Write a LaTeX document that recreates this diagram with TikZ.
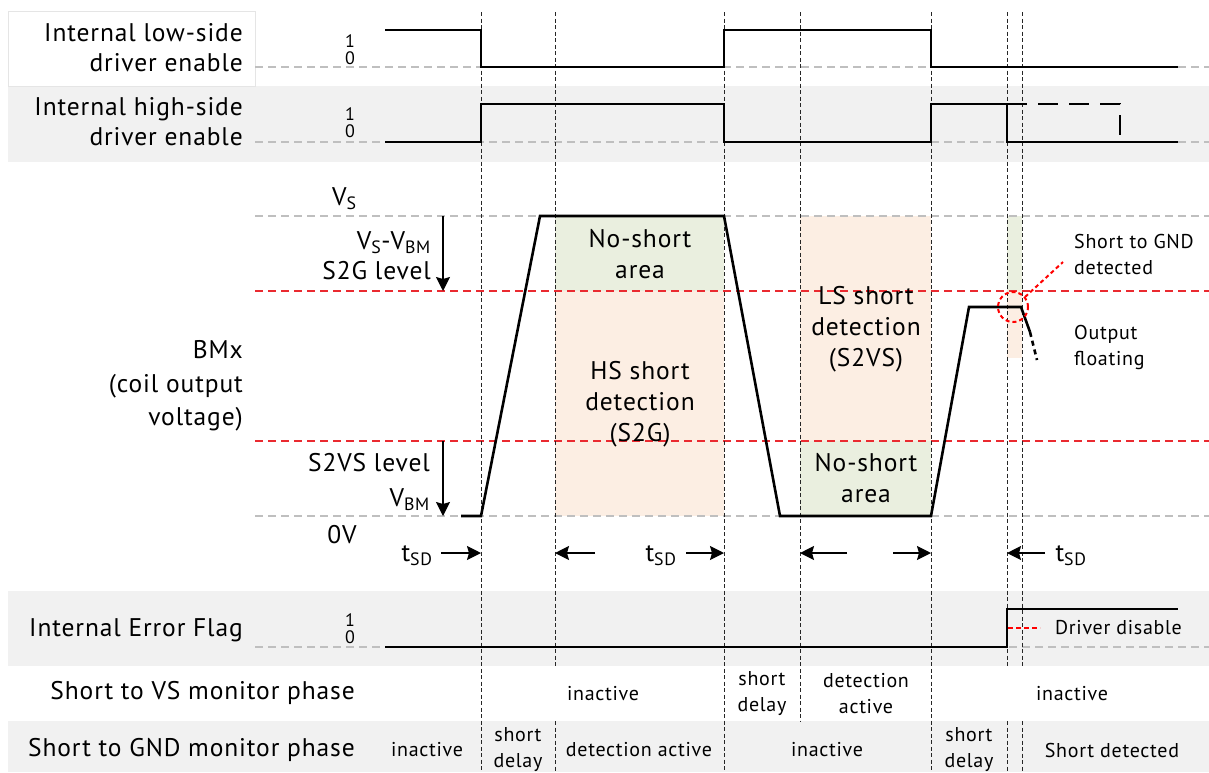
\documentclass[tikz,border=0pt]{standalone}
\usepackage{fontspec}
\setmainfont{PT Sans}[LetterSpace=3.5]
\usepackage{tikz}
\usetikzlibrary{arrows.meta}
\definecolor{bandgray}{HTML}{F1F1F1}
\definecolor{nsgreen}{HTML}{EAEFDF}
\definecolor{detpeach}{HTML}{FCEEE3}
\definecolor{lvlred}{HTML}{EA2A30}

\tikzset{
    sig/.style={line width=2.6pt, line join=miter},
    grid/.style={black!25, line width=1.3pt, dash pattern=on 8pt off 5pt},
    lvl/.style={lvlred, line width=1.1pt, dash pattern=on 8pt off 5pt},
    tmark/.style={black!85, line width=0.7pt, dash pattern=on 4pt off 2.5pt},
    lbl/.style={font=\fontsize{25.5}{30}\selectfont, align=right, anchor=east, inner sep=0pt},
    txt/.style={font=\fontsize{25.5}{31}\selectfont, align=center, inner sep=0pt},
    small/.style={font=\fontsize{20}{26}\selectfont, align=center, inner sep=0pt},
    bit/.style={font=\fontsize{18}{18}\selectfont, inner sep=0pt},
    arr/.style={-{Stealth[length=14pt, width=14pt, inset=2pt]}, line width=1.4pt}
}

\begin{document}
\begin{tikzpicture}[x=1pt, y=-1pt]
                \useasboundingbox (0,0) rectangle (1209,772);

                    % bands
                    \fill[bandgray] (8,86) rectangle (1209,162);
                    \fill[bandgray] (8,591) rectangle (1209,666);
                    \fill[bandgray] (8,721) rectangle (1209,772);
                    \draw[black!10, fill=white] (8,11) rectangle (255,86);

                    % areas of BMx
                    \fill[nsgreen] (555,216) rectangle (724,291);
                    \fill[detpeach] (555,291) rectangle (724,516);
                    \fill[detpeach] (800,216) rectangle (931,441);
                    \fill[nsgreen] (800,441) rectangle (931,516);
                    \fill[nsgreen] (1007,216) rectangle (1022,291);
                    \fill[detpeach] (1007,291) rectangle (1022,358);

                    \foreach \y in {67,142,216,516,647}
                        \draw[grid] (255,\y) -- (1209,\y);
                    \foreach \y in {291,441}
                        \draw[lvl] (255,\y) -- (1209,\y);

                    \foreach \x/\yb in {481/772, 724/772, 800/721, 931/772}
                        \draw[tmark] (\x,12) -- (\x,\yb);
                    \foreach \x in {555,1007,1022} {
                        \draw[tmark] (\x,12) -- (\x,666);
                        \draw[tmark] (\x,721) -- (\x,772);
                    };

                    % signals
                    \draw[sig] (385,30) -| (481,67) -| (724,30) -| (931,67) -- (1178,67);
                    \draw[sig] (385,142) -| (481,104) -| (724,142) -| (931,104) -| (1007,142) -- (1178,142);
                    \draw[sig, dash pattern=on 20pt off 11pt] (1007,104) -| (1120,139);
                    \draw[sig] (385,647) -| (1007,609) -- (1178,609);
                    \draw[sig] (461,516) -- (481,516) -- (540,216) -- (724,216) -- (780,516)
                        -- (931,516) -- (969,307) -- (1021,307) -- (1030,332);
                    \draw[sig, dash pattern=on 5pt off 4pt] (1030,332) -- (1037,360);

                    \foreach \n/\y in {lsd/41, hsd/114, flag/620} {
                        \node[bit] (\n one) at (350,\y) {1};
                        \node[bit] (\n zero) at (350,\y+17) {0};
                    };

                    \node[lbl] (lsd) at (243,48) {Internal low-side\\driver enable};
                    \node[lbl] (hsd) at (243,122) {Internal high-side\\driver enable};
                    \node[lbl, font=\fontsize{25.5}{33.5}\selectfont] (bmx) at (243,386) {BMx\\(coil output\\voltage)};
                    \node[lbl] (flag) at (243,630) {Internal Error Flag};
                    \node[lbl] (vsmon) at (355,693) {Short to VS monitor phase};
                    \node[lbl] (gndmon) at (355,750) {Short to GND monitor phase};

                    % levels
                    \node[txt, anchor=west] (vs) at (332,199) {V\textsubscript{S}};
                    \node[lbl] (s2g) at (431,256) {V\textsubscript{S}-V\textsubscript{BM}\\S2G level};
                    \node[lbl, font=\fontsize{25.5}{35}\selectfont] (s2vs) at (430,482) {S2VS level\\V\textsubscript{BM}};
                    \node[txt] (zero) at (342,535) {0V};
                    \draw[arr] (443,216) -- (443,291);
                    \draw[arr] (443,441) -- (443,516);

                    \node[txt] (nsA) at (640,254) {No-short\\area};
                    \node[txt] (hs) at (640,404) {HS short\\detection\\(S2G)};
                    \node[txt] (ls) at (866,329) {LS short\\detection\\(S2VS)};
                    \node[txt] (nsB) at (866,478) {No-short\\area};

                    % short delay times
                    \node[txt] (tsdA) at (417,556) {t\textsubscript{SD}};
                    \node[txt] (tsdB) at (661,556) {t\textsubscript{SD}};
                    \node[txt] (tsdC) at (1071,556) {t\textsubscript{SD}};
                    \foreach \xa/\xb in {441/481, 595/555, 686/724, 847/800, 893/931, 1045/1007}
                        \draw[arr] (\xa,553) -- (\xb,553);

                    % short to GND
                    \draw[red, line width=2pt, dash pattern=on 4pt off 3pt] (1013,307) circle (15pt);
                    \draw[red, line width=2pt, dash pattern=on 4pt off 3pt] (1025,297) -- (1063,262);
                    \node[small, align=left, anchor=west] (gnddet) at (1074,254) {Short to GND\\detected};
                    \node[small, align=left, anchor=west] (float) at (1074,347) {Output\\floating};
                    \draw[red, line width=2.2pt, dash pattern=on 5pt off 3pt] (1008,628) -- (1040,628);
                    \node[small, anchor=west] (drvdis) at (1055,628) {Driver disable};

                    % monitor phases
                    \foreach \x/\y/\tag in {
                        603/694/inactive,
                        762/694/short\\delay,
                        866/694/detection\\active,
                        1072/694/inactive,
                        427/750/inactive,
                        518/750/short\\delay,
                        639/750/detection active,
                        827/750/inactive,
                        969/750/short\\delay,
                        1115/750/Short detected
                    } {
                        \node[small] at (\x,\y) {\tag};
                    };

                \end{tikzpicture}
\end{document}
